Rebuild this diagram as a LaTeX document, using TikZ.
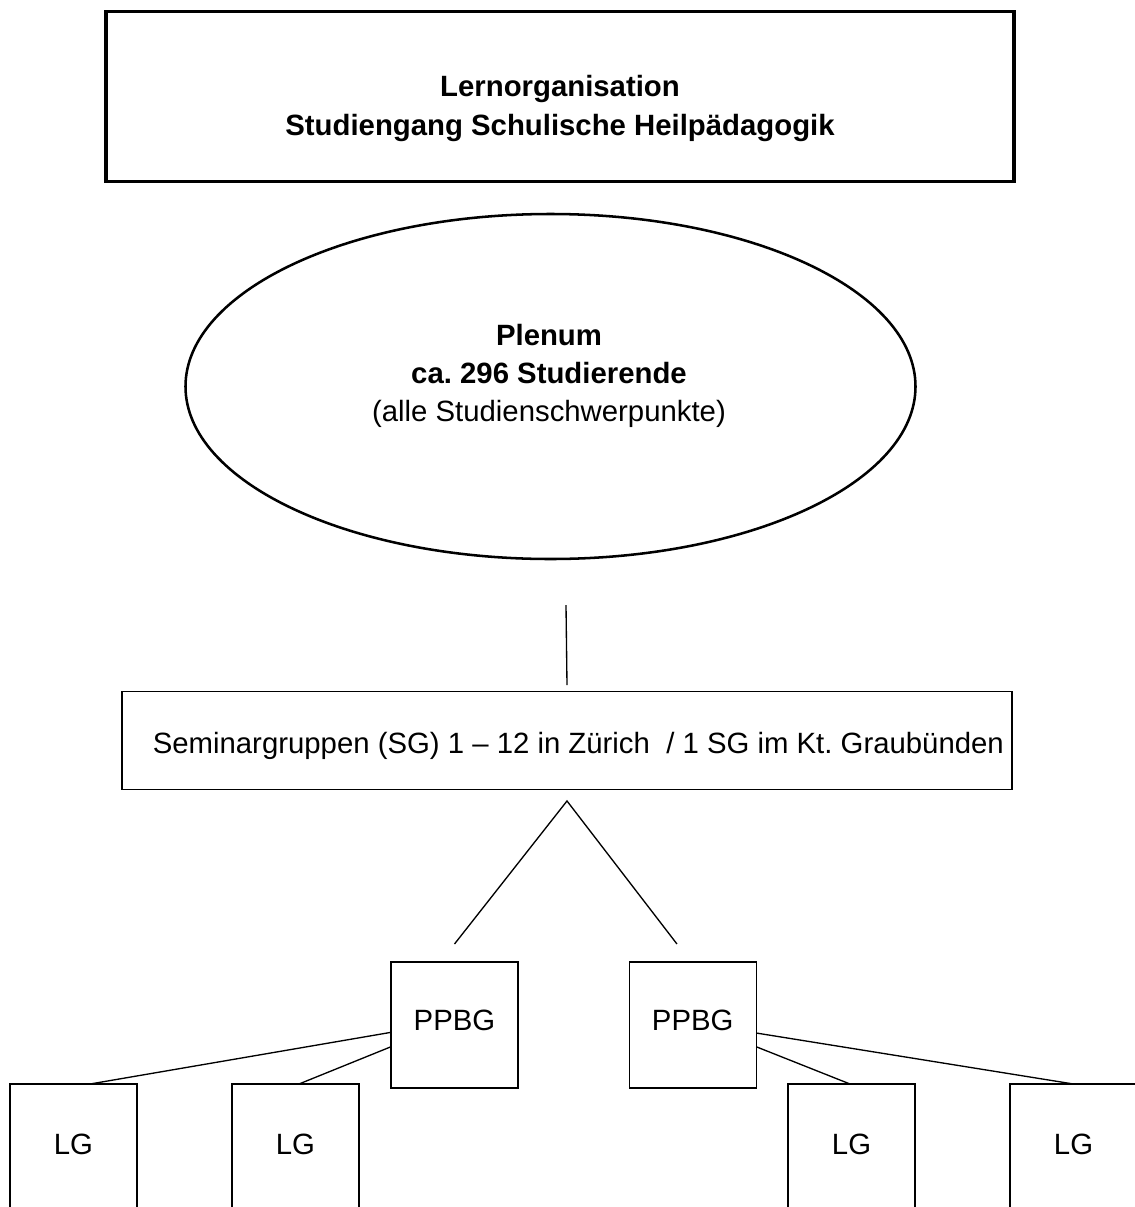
\documentclass[tikz,border=0pt]{standalone}
\usepackage{fontspec}
\setmainfont{Liberation Sans}
\usetikzlibrary{shapes.geometric}
\frenchspacing
\begin{document}
\begin{tikzpicture}[x=0.75pt,y=-0.75pt,
  every node/.style={inner sep=0pt, outer sep=0pt, font=\fontsize{22pt}{28.5pt}\selectfont},
  titlebox/.style={draw, line width=2.6pt, minimum width=681pt, minimum height=127.8pt},
  plenbox/.style={draw, ellipse, line width=1.9pt, minimum width=547.5pt, minimum height=258.75pt},
  sgbox/.style={draw, line width=1.05pt, minimum width=667.5pt, minimum height=73.5pt},
  ppbox/.style={draw, line width=1.05pt, minimum width=95.25pt, minimum height=94.5pt},
  lgbox/.style={draw, line width=1.05pt, minimum width=95.25pt, minimum height=135pt},
  conn/.style={line width=1pt}
]
\useasboundingbox (0,0) rectangle (1135,1207);
\clip (0,0) rectangle (1135,1207);

% title
\node[titlebox] (title) at (560,96.5) {};
\node[align=center, font=\fontsize{22pt}{29.25pt}\selectfont\bfseries] (titletext) at (560,108)
  {Lernorganisation\\Studiengang Schulische Heilpädagogik};

% plenum
\node[plenbox] (plenum) at (550.5,386.5) {};
\node[align=center] (plentext) at (549,376)
  {\textbf{Plenum}\\\textbf{ca. 296 Studierende}\\(alle Studienschwerpunkte)};

% seminar groups
\node[sgbox] (sg) at (567,740.5) {};
\node[anchor=base west] (sgtext) at (152.8,753)
  {Seminargruppen (SG) 1 – 12 in Zürich~ / 1 SG im Kt. Graubünden};

% PPBG
\node[ppbox] (ppbgL) at (454.5,1025) {};
\node[ppbox] (ppbgR) at (692.7,1025) {};
\node[anchor=base] (ppbgLt) at (454.5,1030.7) {PPBG};
\node[anchor=base] (ppbgRt) at (692.7,1030.7) {PPBG};

% LG
\node[lgbox] (lg1) at (73.5,1174) {};
\node[lgbox] (lg2) at (295.5,1174) {};
\node[lgbox] (lg3) at (851.5,1174) {};
\node[lgbox] (lg4) at (1073.5,1174) {};
\node[anchor=base] (lg1t) at (73.5,1154) {LG};
\node[anchor=base] (lg2t) at (295.5,1154) {LG};
\node[anchor=base] (lg3t) at (851.5,1154) {LG};
\node[anchor=base] (lg4t) at (1073.5,1154) {LG};

% connectors
\coordinate (vtop) at (566,605);
\draw[conn] (vtop) -- ([yshift=4.875pt]sg.north);
\draw[conn] ([yshift=13.5pt]ppbgL.north) -- ([yshift=-8.6pt]sg.south)
            -- ([xshift=-11.8pt,yshift=13.5pt]ppbgR.north);
\draw[conn] ([yshift=-5.5pt]ppbgL.west) -- ([xshift=12.4pt]lg1.north);
\draw[conn] ([yshift=-16.3pt]ppbgL.west) -- ([xshift=2.6pt]lg2.north);
\draw[conn] ([yshift=-16.3pt]ppbgR.east) -- ([xshift=-1.1pt]lg3.north);
\draw[conn] ([yshift=-6pt]ppbgR.east) -- (lg4.north);
\end{tikzpicture}
\end{document}
